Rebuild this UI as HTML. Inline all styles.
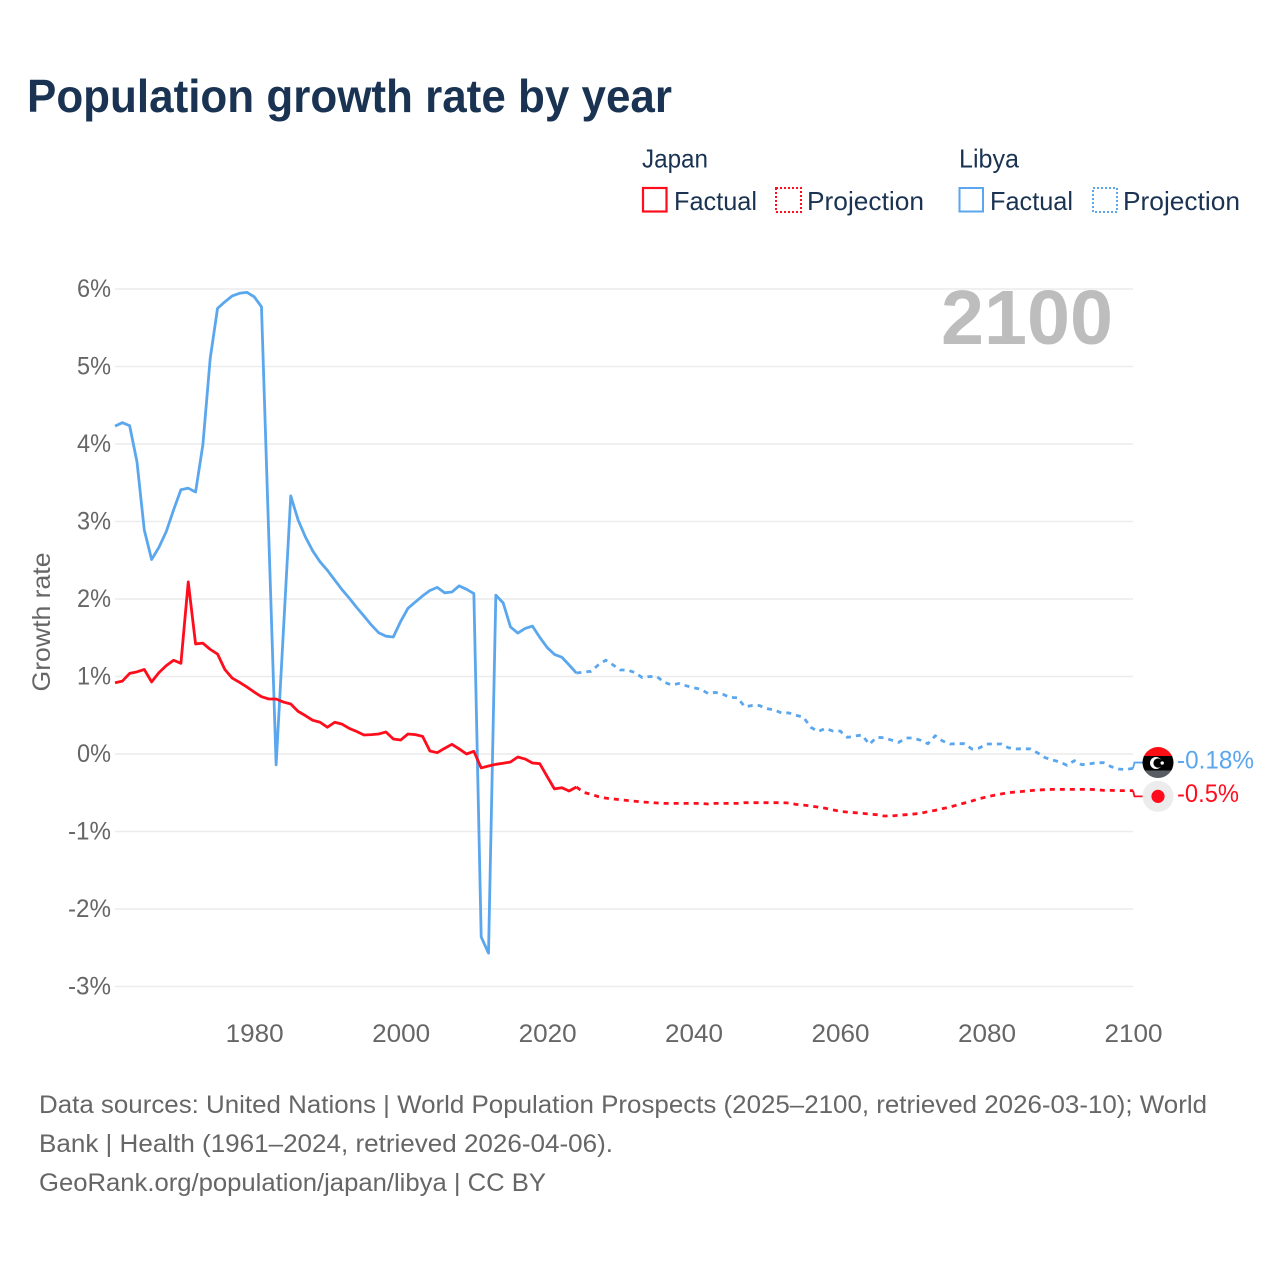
<!DOCTYPE html>
<html lang="en">
<head>
<meta charset="utf-8">
<title>Population growth rate by year</title>
<style>
  html, body { margin: 0; padding: 0; background: #ffffff; }
  svg { display: block; }
  text { font-family: "Liberation Sans", sans-serif; }
  .legend-text { font-size: 26px; fill: #1a3352; }
  .footer-text { font-size: 25px; fill: #666666; }
  .tick-text { font-size: 25px; fill: #666666; }
</style>
</head>
<body>
<svg id="chart" xmlns="http://www.w3.org/2000/svg" width="1280" height="1280" viewBox="0 0 1280 1280">
  <defs>
    <clipPath id="flag-clip"><circle cx="0" cy="0" r="15.5"></circle></clipPath>
  </defs>
  <rect x="0" y="0" width="1280" height="1280" fill="#ffffff"></rect>

  <text x="27" y="112" font-size="46" font-weight="700" fill="#1a3352" textLength="645" lengthAdjust="spacingAndGlyphs">Population growth rate by year</text>

  <g>
    <text class="legend-text" x="642" y="167.5" textLength="66" lengthAdjust="spacingAndGlyphs">Japan</text>
    <rect x="643" y="188" width="23.5" height="23.5" fill="none" stroke="#ff0d1c" stroke-width="2.2"></rect>
    <text class="legend-text" x="674" y="210" textLength="83" lengthAdjust="spacingAndGlyphs">Factual</text>
    <rect x="776" y="188" width="25" height="24" fill="none" stroke="#ff0d1c" stroke-width="2" stroke-dasharray="2 2"></rect>
    <text class="legend-text" x="807" y="210" textLength="117" lengthAdjust="spacingAndGlyphs">Projection</text>
    <text class="legend-text" x="959" y="167.5" textLength="60" lengthAdjust="spacingAndGlyphs">Libya</text>
    <rect x="959.5" y="188" width="23.5" height="23.5" fill="none" stroke="#5aa7ee" stroke-width="2"></rect>
    <text class="legend-text" x="990" y="210" textLength="83" lengthAdjust="spacingAndGlyphs">Factual</text>
    <rect x="1093" y="188" width="24" height="24" fill="none" stroke="#5aa7ee" stroke-width="2" stroke-dasharray="2 2"></rect>
    <text class="legend-text" x="1123" y="210" textLength="117" lengthAdjust="spacingAndGlyphs">Projection</text>
  </g>

  <g id="grid"></g>
  <g id="y-ticks"></g>
  <g id="x-ticks"></g>

  <text x="0" y="0" transform="translate(50 622) rotate(-90)" text-anchor="middle" font-size="25" fill="#666666" textLength="139" lengthAdjust="spacingAndGlyphs">Growth rate</text>

  <text x="941" y="344" font-size="77" font-weight="700" fill="#bdbdbd" textLength="172" lengthAdjust="spacingAndGlyphs">2100</text>

  <g id="series"></g>

  <g id="libya-marker">
    <g clip-path="url(#flag-clip)">
      <rect x="-16" y="-16" width="32" height="10" fill="#fb0f14"></rect>
      <rect x="-16" y="-6.5" width="32" height="14.5" fill="#000000"></rect>
      <rect x="-16" y="8" width="32" height="8" fill="#585d63"></rect>
    </g>
    <circle cx="-2" cy="0.5" r="6" fill="#ffffff"></circle>
    <circle cx="0" cy="0.5" r="4.6" fill="#000000"></circle>
    <circle cx="4.2" cy="0.5" r="1.7" fill="#ffffff"></circle>
  </g>
  <g id="japan-marker">
    <circle cx="0" cy="0" r="15.5" fill="#ececec"></circle>
    <circle cx="0" cy="0" r="6.6" fill="#ff0d1c"></circle>
  </g>

  <text id="libya-end-label" x="1177" y="769" font-size="25" fill="#5aa7ee" textLength="77" lengthAdjust="spacingAndGlyphs"></text>
  <text id="japan-end-label" x="1177" y="803" font-size="25" fill="#ff0d1c" textLength="62" lengthAdjust="spacingAndGlyphs"></text>

  <g>
    <text class="footer-text" x="39" y="1113" textLength="1168" lengthAdjust="spacingAndGlyphs">Data sources: United Nations | World Population Prospects (2025–2100, retrieved 2026-03-10); World</text>
    <text class="footer-text" x="39" y="1152" textLength="574" lengthAdjust="spacingAndGlyphs">Bank | Health (1961–2024, retrieved 2026-04-06).</text>
    <text class="footer-text" x="39" y="1191" textLength="507" lengthAdjust="spacingAndGlyphs">GeoRank.org/population/japan/libya | CC BY</text>
  </g>
</svg>

<script>
const factualStartYear = 1961;
const projectionStartYear = 2024;

const xTickYears = [1980, 2000, 2020, 2040, 2060, 2080, 2100];
const yTickValues = [6, 5, 4, 3, 2, 1, 0, -1, -2, -3];
const endValueLabels = ["-0.18%", "-0.5%"];

const japanFactual = [
  0.92, 0.94, 1.04, 1.06, 1.09, 0.93, 1.05, 1.14, 1.21, 1.17,
  2.22, 1.42, 1.43, 1.35, 1.29, 1.09, 0.98, 0.925, 0.865, 0.80,
  0.74, 0.71, 0.71, 0.67, 0.645, 0.55, 0.495, 0.435, 0.41, 0.345,
  0.41, 0.385, 0.33, 0.29, 0.245, 0.25, 0.258, 0.284, 0.194, 0.18,
  0.258, 0.25, 0.228, 0.039, 0.017, 0.073, 0.125, 0.065, 0.0, 0.035,
  -0.18, -0.155, -0.133, -0.12, -0.103, -0.039, -0.065, -0.116, -0.125, -0.29,
  -0.45, -0.435, -0.477, -0.426
];

const japanProjection = [
  -0.426, -0.495, -0.52, -0.55, -0.57, -0.58, -0.59, -0.60, -0.61, -0.62,
  -0.625, -0.632, -0.637, -0.637, -0.637, -0.637, -0.637, -0.637, -0.645, -0.637,
  -0.637, -0.637, -0.637, -0.628, -0.628, -0.628, -0.628, -0.628, -0.628, -0.632,
  -0.65, -0.66, -0.67, -0.685, -0.70, -0.72, -0.74, -0.75, -0.757, -0.765,
  -0.775, -0.783, -0.80, -0.80, -0.79, -0.783, -0.775, -0.765, -0.744, -0.727,
  -0.705, -0.684, -0.658, -0.632, -0.606, -0.577, -0.555, -0.533, -0.516, -0.499,
  -0.49, -0.482, -0.473, -0.465, -0.46, -0.456, -0.456, -0.456, -0.456, -0.456,
  -0.456, -0.46, -0.469, -0.469, -0.473, -0.473, -0.473
];

const libyaFactual = [
  4.23, 4.275, 4.236, 3.77, 2.89, 2.51, 2.667, 2.87, 3.15, 3.41,
  3.43, 3.38, 3.99, 5.105, 5.75, 5.835, 5.91, 5.945, 5.957, 5.90,
  5.77, 2.8, -0.14, 1.6, 3.33, 3.02, 2.80, 2.62, 2.48, 2.37,
  2.245, 2.12, 2.01, 1.89, 1.78, 1.665, 1.565, 1.52, 1.51, 1.71,
  1.88, 1.96, 2.04, 2.11, 2.15, 2.08, 2.09, 2.17, 2.125, 2.07,
  -2.36, -2.57, 2.05, 1.95, 1.64, 1.56, 1.62, 1.65, 1.505, 1.375,
  1.285, 1.25, 1.15, 1.045
];

const libyaProjection = [
  1.045, 1.058, 1.067, 1.15, 1.21, 1.15, 1.084, 1.084, 1.05, 0.985,
  1.00, 0.998, 0.925, 0.89, 0.91, 0.88, 0.855, 0.835, 0.78, 0.795,
  0.77, 0.73, 0.725, 0.61, 0.625, 0.625, 0.585, 0.57, 0.53, 0.53,
  0.50, 0.475, 0.345, 0.29, 0.33, 0.297, 0.297, 0.215, 0.232, 0.245,
  0.125, 0.215, 0.21, 0.18, 0.15, 0.206, 0.206, 0.177, 0.133, 0.236,
  0.168, 0.129, 0.133, 0.133, 0.065, 0.077, 0.129, 0.129, 0.129, 0.081,
  0.065, 0.068, 0.065, 0.013, -0.047, -0.077, -0.103, -0.146, -0.086, -0.138,
  -0.129, -0.112, -0.112, -0.163, -0.194, -0.20, -0.185
];

const SVG_NS = "http://www.w3.org/2000/svg";
const plotLeft = 115;
const plotRight = 1133;
const yearMin = 1961;
const yearMax = 2100;
const yZero = 754;
const yPerUnit = 77.5;
const RED = "#ff0d1c";
const BLUE = "#5aa7ee";

function xScale(year) {
  return plotLeft + (year - yearMin) * (plotRight - plotLeft) / (yearMax - yearMin);
}
function yScale(value) {
  return yZero - value * yPerUnit;
}
function make(tag, parent) {
  const el = document.createElementNS(SVG_NS, tag);
  parent.appendChild(el);
  return el;
}
function pathFrom(values, startYear) {
  return values.map(function (v, i) {
    return (i === 0 ? "M" : "L") + xScale(startYear + i).toFixed(2) + " " + yScale(v).toFixed(2);
  }).join(" ");
}

const gridGroup = document.getElementById("grid");
const yTickGroup = document.getElementById("y-ticks");
const xTickGroup = document.getElementById("x-ticks");
const seriesGroup = document.getElementById("series");

yTickValues.forEach(function (v) {
  const line = make("line", gridGroup);
  
  
  line.setAttribute("x1", plotLeft);
  line.setAttribute("x2", plotRight);
  line.setAttribute("y1", yScale(v));
  line.setAttribute("y2", yScale(v));
  line.setAttribute("stroke", "#ececec");
  line.setAttribute("stroke-width", "1.6");

  const label = make("text", yTickGroup);
  
  
  label.setAttribute("class", "tick-text");
  const str = v + "%";
  const w = v < 0 ? 43 : 34;
  label.setAttribute("x", 111 - w);
  label.setAttribute("y", yScale(v) + 7.8);
  label.setAttribute("textLength", w);
  label.setAttribute("lengthAdjust", "spacingAndGlyphs");
  label.textContent = str;
});

xTickYears.forEach(function (year) {
  const label = make("text", xTickGroup);
  
  
  label.setAttribute("class", "tick-text");
  label.setAttribute("x", xScale(year) - 28.5);
  label.setAttribute("y", 1042);
  label.setAttribute("textLength", 58);
  label.setAttribute("lengthAdjust", "spacingAndGlyphs");
  label.textContent = String(year);
});

function drawLine(name, values, startYear, color, dashed) {
  const path = make("path", seriesGroup);
  
  
  path.setAttribute("d", pathFrom(values, startYear));
  path.setAttribute("fill", "none");
  path.setAttribute("stroke", color);
  path.setAttribute("stroke-width", "2.8");
  path.setAttribute("stroke-linejoin", "round");
  if (dashed) path.setAttribute("stroke-dasharray", "5 5");
}

drawLine("libya-factual-line", libyaFactual, factualStartYear, BLUE, false);
drawLine("libya-projection-line", libyaProjection, projectionStartYear, BLUE, true);
drawLine("japan-factual-line", japanFactual, factualStartYear, RED, false);
drawLine("japan-projection-line", japanProjection, projectionStartYear, RED, true);

const markerX = 1158;
const libyaEnd = libyaProjection[libyaProjection.length - 1];
const japanEnd = japanProjection[japanProjection.length - 1];
const libyaMarkerY = yScale(libyaEnd) - 5.8;
const japanMarkerY = yScale(japanEnd) + 5.7;

const libyaConnector = make("path", seriesGroup);


libyaConnector.setAttribute("d", "M" + xScale(yearMax) + " " + yScale(libyaEnd) + " L" + (xScale(yearMax) + 1.5) + " " + libyaMarkerY + " L" + markerX + " " + libyaMarkerY);
libyaConnector.setAttribute("fill", "none");
libyaConnector.setAttribute("stroke", BLUE);
libyaConnector.setAttribute("stroke-width", "1.8");

const japanConnector = make("path", seriesGroup);


japanConnector.setAttribute("d", "M" + xScale(yearMax) + " " + yScale(japanEnd) + " L" + (xScale(yearMax) + 1.5) + " " + japanMarkerY + " L" + markerX + " " + japanMarkerY);
japanConnector.setAttribute("fill", "none");
japanConnector.setAttribute("stroke", RED);
japanConnector.setAttribute("stroke-width", "1.8");

document.getElementById("libya-marker").setAttribute("transform", "translate(" + markerX + " " + libyaMarkerY + ")");
document.getElementById("japan-marker").setAttribute("transform", "translate(" + markerX + " " + japanMarkerY + ")");

const libyaLabel = document.getElementById("libya-end-label");
libyaLabel.setAttribute("y", libyaMarkerY + 6);
libyaLabel.textContent = endValueLabels[0];
const japanLabel = document.getElementById("japan-end-label");
japanLabel.setAttribute("y", japanMarkerY + 5.5);
japanLabel.textContent = endValueLabels[1];
</script>
</body>
</html>
